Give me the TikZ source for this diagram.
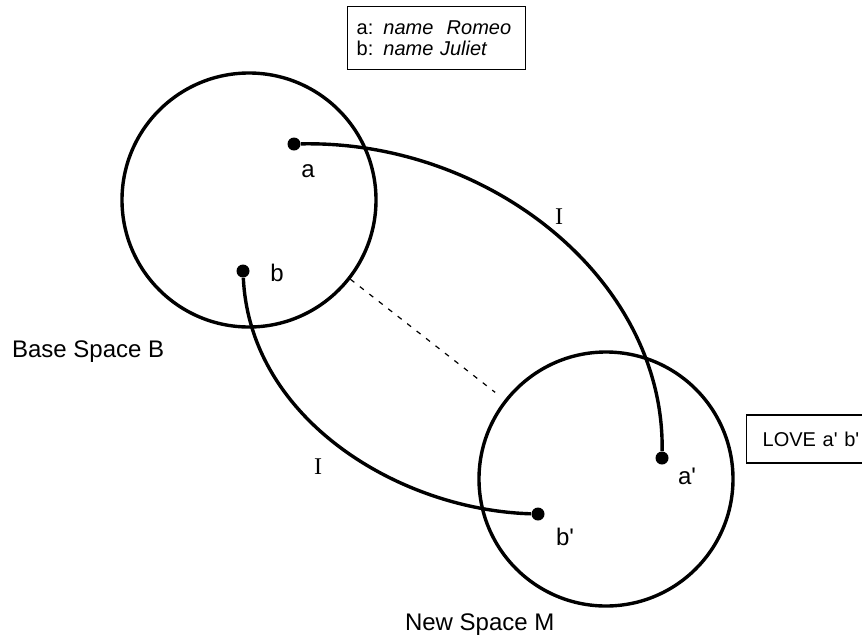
\documentclass[tikz,border=0pt]{standalone}
\usepackage{fontspec}
\setmainfont{Liberation Sans}
\newfontfamily\romanI{Liberation Serif}
\usetikzlibrary{positioning}

\tikzset{
  space/.style={draw, circle, line width=1.7pt, minimum size=127pt, inner sep=0pt},
  spot/.style={circle, fill, inner sep=0pt, minimum size=6.5pt},
  link/.style={line width=1.7pt},
  infobox/.style={draw, line width=0.7pt, font=\fontsize{10}{10.5}\selectfont},
  lbl/.style={font=\fontsize{12}{14}\selectfont}
}

\begin{document}
\begin{tikzpicture}[x=0.5pt, y=-0.5pt]
  \useasboundingbox (0,0) rectangle (862,638);

  % the two spaces
  \node[space] (base) at (249,200) {};
  \node[space] (new) at (606,479) {};

  % elements
  \node[spot] (a) at (294,144) {};
  \node[spot] (b) at (243,271) {};
  \node[spot] (ap) at (662,458) {};
  \node[spot] (bp) at (538,514) {};
  \node[lbl] (alab) at (308,171) {a};
  \node[lbl] (blab) at (277,273) {b};
  \node[lbl] (aplab) at (687,476) {a\textquotesingle};
  \node[lbl] (bplab) at (565,537) {b\textquotesingle};

  % mappings
  \draw[link] (a) .. controls (490,140) and (665,280) .. (ap);
  \draw[link] (b) .. controls (250,420) and (400,510) .. (bp);
  \node[lbl, font=\romanI\fontsize{12}{14}\selectfont] (i1) at (559,217) {I};
  \node[lbl, font=\romanI\fontsize{12}{14}\selectfont] (i2) at (318,467) {I};
  \draw[dashed, line width=0.6pt, dash pattern=on 2.5pt off 3.5pt, shorten >=6pt] (base) -- (new);

  % frames
  \node[infobox, anchor=north west, align=left, text width=80pt, inner xsep=4.5pt, inner ysep=7pt] (names) at (347,6)
    {a: \textit{name\ \ Romeo}\\ b: \textit{name Juliet}};
  \node[infobox, anchor=west, minimum height=24pt, minimum width=70pt, inner xsep=8pt, text width=56pt, align=left] (love) at (746,439)
    {LOVE a\textquotesingle\ b\textquotesingle};

  % space names
  \node[lbl, anchor=west] (bname) at (5,352) {Base Space B};
  \node[lbl, anchor=west] (mname) at (398,625) {New Space M};
\end{tikzpicture}
\end{document}
